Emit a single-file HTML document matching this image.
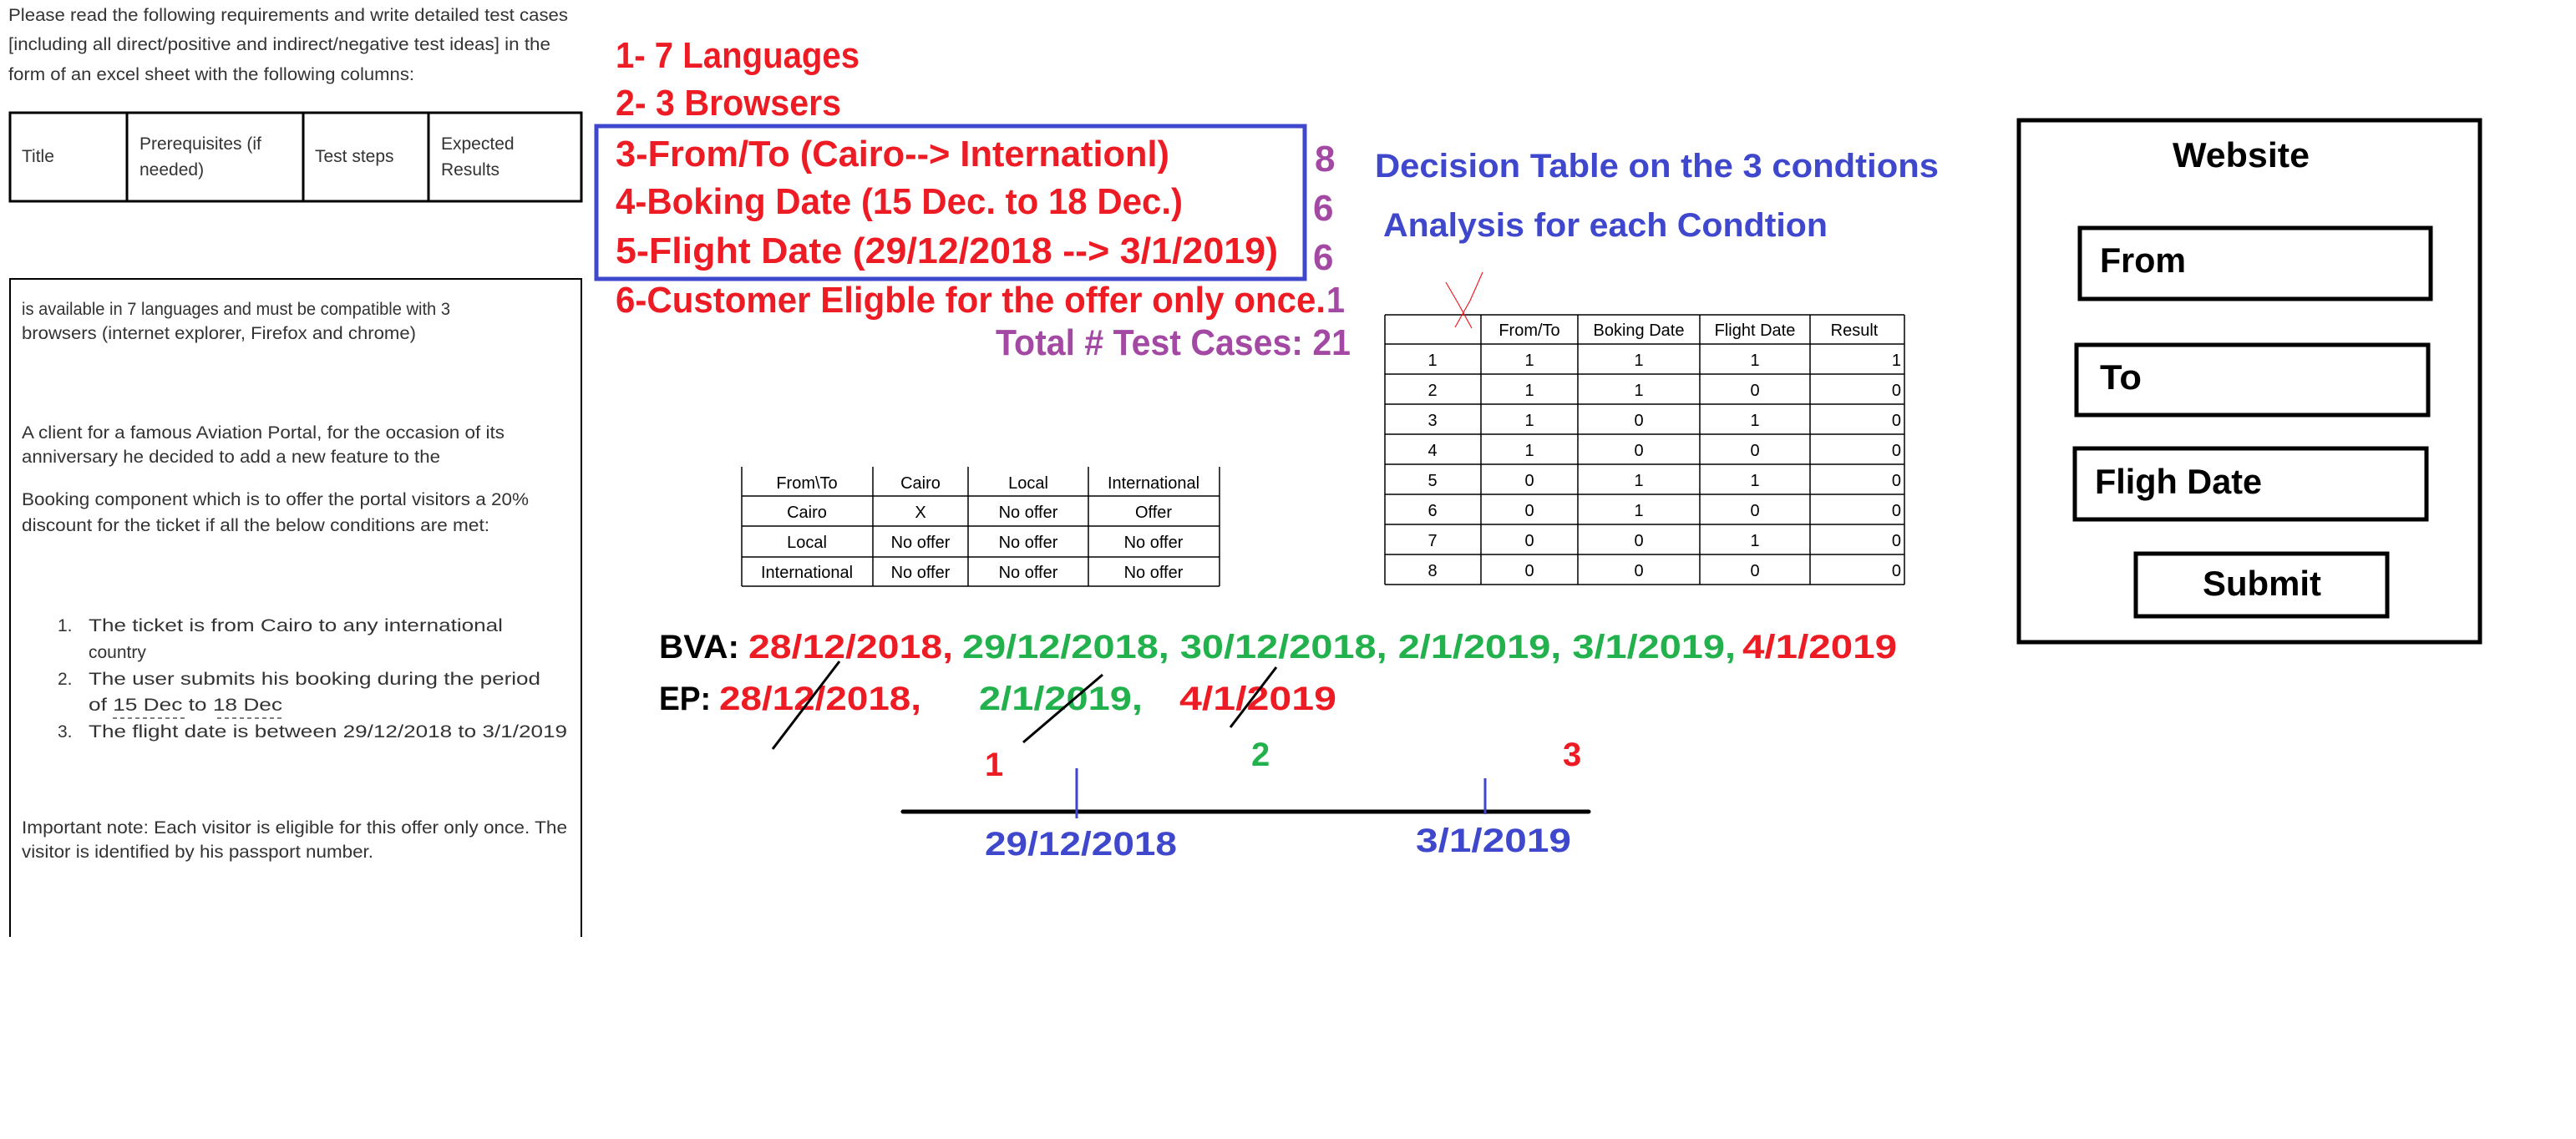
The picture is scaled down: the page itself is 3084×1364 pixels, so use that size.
<!DOCTYPE html>
<html><head><meta charset="utf-8"><style>
html,body{margin:0;padding:0;background:#fff;}
svg{display:block;}
.s{font-family:"Liberation Sans",sans-serif;font-size:21px;fill:#333;}
.b{font-family:"Liberation Sans",sans-serif;font-weight:bold;}
.t{font-family:"Liberation Sans",sans-serif;font-size:20px;fill:#000;}
.r{fill:#ED1C24}.g{fill:#22B14C}.bl{fill:#3F48CC}.p{fill:#A349A4}.k{fill:#000}
</style></head><body>
<svg width="3084" height="1364" viewBox="0 0 3084 1364" xmlns="http://www.w3.org/2000/svg">
<rect width="3084" height="1364" fill="#fff"/>
<g class="s">
<text x="10" y="25" textLength="670" lengthAdjust="spacingAndGlyphs">Please read the following requirements and write detailed test cases</text>
<text x="10" y="60" textLength="649" lengthAdjust="spacingAndGlyphs">[including all direct/positive and indirect/negative test ideas] in the</text>
<text x="10" y="96" textLength="486" lengthAdjust="spacingAndGlyphs">form of an excel sheet with the following columns:</text>
<text x="26" y="194">Title</text>
<text x="167" y="179">Prerequisites (if</text>
<text x="167" y="210">needed)</text>
<text x="377" y="194">Test steps</text>
<text x="528" y="179">Expected</text>
<text x="528" y="210">Results</text>
<text x="26" y="377" textLength="513" lengthAdjust="spacingAndGlyphs">is available in 7 languages and must be compatible with 3</text>
<text x="26" y="406" textLength="472" lengthAdjust="spacingAndGlyphs">browsers (internet explorer, Firefox and chrome)</text>
<text x="26" y="525" textLength="578" lengthAdjust="spacingAndGlyphs">A client for a famous Aviation Portal, for the occasion of its</text>
<text x="26" y="554" textLength="501" lengthAdjust="spacingAndGlyphs">anniversary he decided to add a new feature to the</text>
<text x="26" y="605" textLength="607" lengthAdjust="spacingAndGlyphs">Booking component which is to offer the portal visitors a 20%</text>
<text x="26" y="636" textLength="560" lengthAdjust="spacingAndGlyphs">discount for the ticket if all the below conditions are met:</text>
<text x="69" y="756">1.</text>
<text x="106" y="756" textLength="496" lengthAdjust="spacingAndGlyphs">The ticket is from Cairo to any international</text>
<text x="106" y="788">country</text>
<text x="69" y="820">2.</text>
<text x="106" y="820" textLength="541" lengthAdjust="spacingAndGlyphs">The user submits his booking during the period</text>
<text x="106" y="851" textLength="232" lengthAdjust="spacingAndGlyphs">of 15 Dec to 18 Dec</text>
<text x="69" y="883">3.</text>
<text x="106" y="883" textLength="573" lengthAdjust="spacingAndGlyphs">The flight date is between 29/12/2018 to 3/1/2019</text>
<text x="26" y="998" textLength="653" lengthAdjust="spacingAndGlyphs">Important note: Each visitor is eligible for this offer only once. The</text>
<text x="26" y="1027" textLength="421" lengthAdjust="spacingAndGlyphs">visitor is identified by his passport number.</text>
</g>
<g stroke="#555" stroke-width="1.5" stroke-dasharray="5,4">
<line x1="135" y1="860" x2="222" y2="860"/><line x1="260" y1="860" x2="337" y2="860"/>
</g>
<g stroke="#000" stroke-width="3" fill="none">
<rect x="12" y="135" width="684" height="106"/>
<line x1="152" y1="135" x2="152" y2="241"/><line x1="363" y1="135" x2="363" y2="241"/><line x1="513" y1="135" x2="513" y2="241"/>
<polyline points="12,1122 12,334 696,334 696,1122" stroke-width="2"/>
</g>
<g class="b" font-size="44">
<text class="r" x="737" y="81" textLength="292" lengthAdjust="spacingAndGlyphs">1- 7 Languages</text>
<text class="r" x="737" y="138" textLength="270" lengthAdjust="spacingAndGlyphs">2- 3 Browsers</text>
<text class="r" x="737" y="199" textLength="663" lengthAdjust="spacingAndGlyphs">3-From/To (Cairo--&gt; Internationl)</text>
<text class="r" x="737" y="256" textLength="679" lengthAdjust="spacingAndGlyphs">4-Boking Date (15 Dec. to 18 Dec.)</text>
<text class="r" x="737" y="315" textLength="793" lengthAdjust="spacingAndGlyphs">5-Flight Date (29/12/2018 --&gt; 3/1/2019)</text>
<text class="r" x="737" y="374" textLength="850" lengthAdjust="spacingAndGlyphs">6-Customer Eligble for the offer only once.</text>
<text class="p" x="1588" y="374" textLength="22" lengthAdjust="spacingAndGlyphs">1</text>
<text class="p" x="1192" y="425" textLength="425" lengthAdjust="spacingAndGlyphs">Total # Test Cases: 21</text>
<text class="p" x="1574" y="205">8</text>
<text class="p" x="1572" y="264">6</text>
<text class="p" x="1572" y="323">6</text>
</g>
<rect x="714" y="151" width="848" height="183" fill="none" stroke="#3F48CC" stroke-width="5"/>
<g class="b bl" font-size="40">
<text x="1646" y="212" textLength="675" lengthAdjust="spacingAndGlyphs">Decision Table on the 3 condtions</text>
<text x="1656" y="283" textLength="532" lengthAdjust="spacingAndGlyphs">Analysis for each Condtion</text>
</g>
<g stroke="#000" stroke-width="1.5">
<line x1="1658" y1="377" x2="1658" y2="700"/>
<line x1="1773" y1="377" x2="1773" y2="700"/>
<line x1="1889" y1="377" x2="1889" y2="700"/>
<line x1="2035" y1="377" x2="2035" y2="700"/>
<line x1="2167" y1="377" x2="2167" y2="700"/>
<line x1="2280" y1="377" x2="2280" y2="700"/>
<line x1="1658" y1="377" x2="2280" y2="377"/>
<line x1="1658" y1="412" x2="2280" y2="412"/>
<line x1="1658" y1="448" x2="2280" y2="448"/>
<line x1="1658" y1="484" x2="2280" y2="484"/>
<line x1="1658" y1="520" x2="2280" y2="520"/>
<line x1="1658" y1="556" x2="2280" y2="556"/>
<line x1="1658" y1="592" x2="2280" y2="592"/>
<line x1="1658" y1="628" x2="2280" y2="628"/>
<line x1="1658" y1="664" x2="2280" y2="664"/>
<line x1="1658" y1="700" x2="2280" y2="700"/>
</g>
<path d="M1731,338 L1745,362 L1762,393 M1775,326 L1760,360 L1742,392" stroke="#ED1C24" stroke-width="1.2" fill="none"/>
<g class="t" text-anchor="middle">
<text x="1831" y="402">From/To</text><text x="1962" y="402">Boking Date</text><text x="2101" y="402">Flight Date</text><text x="2220" y="402">Result</text>
<text x="1715" y="438">1</text><text x="1831" y="438">1</text><text x="1962" y="438">1</text><text x="2101" y="438">1</text>
<text x="1715" y="474">2</text><text x="1831" y="474">1</text><text x="1962" y="474">1</text><text x="2101" y="474">0</text>
<text x="1715" y="510">3</text><text x="1831" y="510">1</text><text x="1962" y="510">0</text><text x="2101" y="510">1</text>
<text x="1715" y="546">4</text><text x="1831" y="546">1</text><text x="1962" y="546">0</text><text x="2101" y="546">0</text>
<text x="1715" y="582">5</text><text x="1831" y="582">0</text><text x="1962" y="582">1</text><text x="2101" y="582">1</text>
<text x="1715" y="618">6</text><text x="1831" y="618">0</text><text x="1962" y="618">1</text><text x="2101" y="618">0</text>
<text x="1715" y="654">7</text><text x="1831" y="654">0</text><text x="1962" y="654">0</text><text x="2101" y="654">1</text>
<text x="1715" y="690">8</text><text x="1831" y="690">0</text><text x="1962" y="690">0</text><text x="2101" y="690">0</text>
</g>
<g class="t" text-anchor="end">
<text x="2276" y="438">1</text><text x="2276" y="474">0</text><text x="2276" y="510">0</text><text x="2276" y="546">0</text>
<text x="2276" y="582">0</text><text x="2276" y="618">0</text><text x="2276" y="654">0</text><text x="2276" y="690">0</text>
</g>
<g stroke="#000" stroke-width="1.5">
<line x1="888" y1="559" x2="888" y2="702"/><line x1="1045" y1="559" x2="1045" y2="702"/>
<line x1="1159" y1="559" x2="1159" y2="702"/><line x1="1303" y1="559" x2="1303" y2="702"/><line x1="1460" y1="559" x2="1460" y2="702"/>
<line x1="888" y1="594" x2="1460" y2="594"/><line x1="888" y1="630" x2="1460" y2="630"/>
<line x1="888" y1="667" x2="1460" y2="667"/><line x1="888" y1="702" x2="1460" y2="702"/>
</g>
<g class="t" text-anchor="middle">
<text x="966" y="585">From\To</text><text x="1102" y="585">Cairo</text><text x="1231" y="585">Local</text><text x="1381" y="585">International</text>
<text x="966" y="620">Cairo</text><text x="1102" y="620">X</text><text x="1231" y="620">No offer</text><text x="1381" y="620">Offer</text>
<text x="966" y="656">Local</text><text x="1102" y="656">No offer</text><text x="1231" y="656">No offer</text><text x="1381" y="656">No offer</text>
<text x="966" y="692">International</text><text x="1102" y="692">No offer</text><text x="1231" y="692">No offer</text><text x="1381" y="692">No offer</text>
</g>
<g class="b" font-size="40">
<text class="k" x="789" y="788" textLength="96" lengthAdjust="spacingAndGlyphs">BVA:</text>
<text class="r" x="896" y="788" textLength="245" lengthAdjust="spacingAndGlyphs">28/12/2018,</text>
<text class="g" x="1152" y="788" textLength="926" lengthAdjust="spacingAndGlyphs">29/12/2018, 30/12/2018, 2/1/2019, 3/1/2019,</text>
<text class="r" x="2086" y="788" textLength="185" lengthAdjust="spacingAndGlyphs">4/1/2019</text>
<text class="k" x="789" y="850" textLength="62" lengthAdjust="spacingAndGlyphs">EP:</text>
<text class="r" x="861" y="850" textLength="242" lengthAdjust="spacingAndGlyphs">28/12/2018,</text>
<text class="g" x="1172" y="850" textLength="196" lengthAdjust="spacingAndGlyphs">2/1/2019,</text>
<text class="r" x="1412" y="850" textLength="188" lengthAdjust="spacingAndGlyphs">4/1/2019</text>
<text class="r" x="1179" y="929">1</text>
<text class="g" x="1498" y="917">2</text>
<text class="r" x="1871" y="917">3</text>
</g>
<g stroke="#000" stroke-width="3">
<line x1="1005" y1="792" x2="925" y2="897"/>
<line x1="1320" y1="808" x2="1225" y2="889"/>
<line x1="1528" y1="799" x2="1473" y2="871"/>
</g>
<line x1="1081" y1="972" x2="1902" y2="972" stroke="#000" stroke-width="5" stroke-linecap="round"/>
<line x1="1289" y1="920" x2="1289" y2="980" stroke="#3F48CC" stroke-width="3"/>
<line x1="1778" y1="932" x2="1778" y2="975" stroke="#3F48CC" stroke-width="3"/>
<g class="b bl" font-size="40">
<text x="1179" y="1024" textLength="230" lengthAdjust="spacingAndGlyphs">29/12/2018</text>
<text x="1695" y="1020" textLength="186" lengthAdjust="spacingAndGlyphs">3/1/2019</text>
</g>
<g fill="none" stroke="#000" stroke-width="5">
<rect x="2417" y="144" width="552" height="625"/>
<rect x="2490" y="273" width="420" height="85"/>
<rect x="2486" y="413" width="421" height="84"/>
<rect x="2484" y="537" width="421" height="85"/>
<rect x="2557" y="663" width="301" height="75"/>
</g>
<g class="b k" font-size="42">
<text x="2683" y="200" text-anchor="middle" textLength="164" lengthAdjust="spacingAndGlyphs">Website</text>
<text x="2514" y="326" textLength="103" lengthAdjust="spacingAndGlyphs">From</text>
<text x="2514" y="466" textLength="50" lengthAdjust="spacingAndGlyphs">To</text>
<text x="2508" y="591" textLength="200" lengthAdjust="spacingAndGlyphs">Fligh Date</text>
<text x="2708" y="713" text-anchor="middle" textLength="142" lengthAdjust="spacingAndGlyphs">Submit</text>
</g>
</svg>
</body></html>
